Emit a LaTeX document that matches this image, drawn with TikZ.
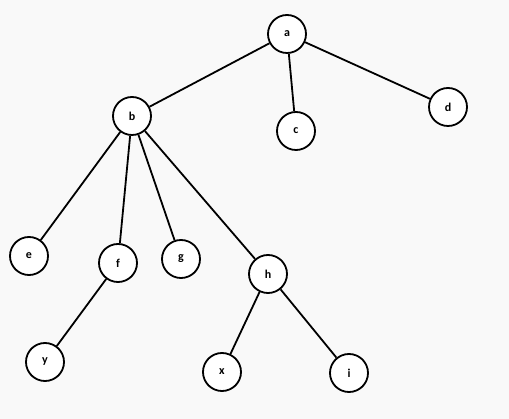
\documentclass[tikz,border=0pt]{standalone}
\usepackage{fontspec}
\setmainfont{Carlito}
\definecolor{bg}{HTML}{F9F9F9}
\begin{document}
\begin{tikzpicture}[x=1pt,y=-1pt,
  vert/.style={circle,draw=black,fill=white,line width=1.8pt,minimum size=38pt,inner sep=0pt,font=\fontsize{12}{14}\selectfont\bfseries},
  edge/.style={line width=1.8pt}]
\fill[bg] (0,0) rectangle (509,419);
\useasboundingbox (0,0) rectangle (509,419);
\node[vert] (a) at (287,34) {a};
\node[vert] (b) at (132,116) {b};
\node[vert] (c) at (296,131) {c};
\node[vert] (d) at (448,107) {d};
\node[vert] (e) at (29,256) {e};
\node[vert] (f) at (118,263) {f};
\node[vert] (g) at (181,259) {g};
\node[vert] (h) at (268,274) {h};
\node[vert] (y) at (45,362) {y};
\node[vert] (x) at (222,372) {x};
\node[vert] (i) at (349,373) {i};
\draw[edge] (a) -- (b);
\draw[edge] (a) -- (c);
\draw[edge] (a) -- (d);
\draw[edge] (b) -- (e);
\draw[edge] (b) -- (f);
\draw[edge] (b) -- (g);
\draw[edge] (b) -- (h);
\draw[edge] (f) -- (y);
\draw[edge] (h) -- (x);
\draw[edge] (h) -- (i);
\end{tikzpicture}
\end{document}
